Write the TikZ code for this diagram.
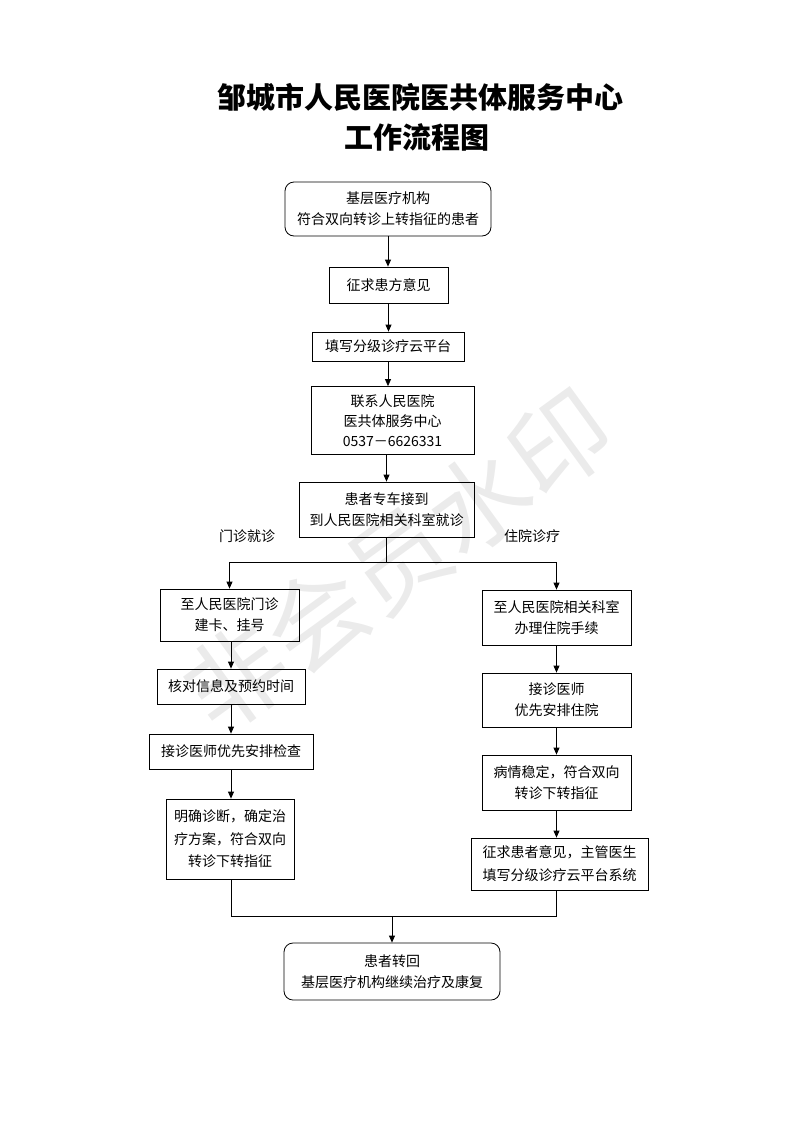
\documentclass[tikz,border=0pt]{standalone}
\usepackage{fontspec}
\setmainfont{Noto Sans CJK SC}
\usetikzlibrary{arrows.meta,calc}

\begin{document}
\begin{tikzpicture}[x=1pt, y=-1pt,
    kasten/.style={draw, line width=0.8pt, align=center, inner sep=0pt,
        font=\fontsize{14}{21}\selectfont},
    rundkasten/.style={kasten, rounded corners=9pt},
    pfeil/.style={-{Triangle[length=7pt,width=6pt]}, line width=0.8pt},
    linie/.style={line width=0.8pt},
    beschriftung/.style={font=\fontsize{14}{21}\selectfont}]

    % Rahmen der Seite
    \useasboundingbox (0,0) rectangle (793,1122);

    % Wasserzeichen
    \node[rotate=36, text=black!8, font=\fontsize{100}{100}\selectfont] (wasserzeichen) at (398,560) {非会员水印};

    % Titel
    \node[font=\fontsize{29}{29}\selectfont\bfseries] (titel1) at (420,97) {邹城市人民医院医共体服务中心};
    \node[font=\fontsize{29}{29}\selectfont\bfseries] (titel2) at (417,137) {工作流程图};

    % Hauptstrang
    \node[rundkasten, minimum width=206, minimum height=54] (start) at (388,209) {基层医疗机构\\符合双向转诊上转指征的患者};
    \node[kasten, minimum width=119, minimum height=36] (meinung) at (388.5,285) {征求患方意见};
    \node[kasten, minimum width=152, minimum height=29] (plattform) at (388,346.5) {填写分级诊疗云平台};
    \node[kasten, minimum width=163, minimum height=68, font=\fontsize{14}{20}\selectfont] (kontakt) at (392.5,420.5) {联系人民医院\\医共体服务中心\\0537－6626331};
    \node[kasten, minimum width=175, minimum height=55] (abholung) at (386.5,509.5) {患者专车接到\\到人民医院相关科室就诊};

    \draw[pfeil] (start.south) -- (start.south |- meinung.north);
    \draw[pfeil] (meinung.south) -- (meinung.south |- plattform.north);
    \draw[pfeil] (plattform.south) -- (plattform.south |- kontakt.north);
    \draw[pfeil] (abholung.north |- kontakt.south) -- (abholung.north);

    % Verzweigung
    \node[beschriftung] (ambulant) at (247,536) {门诊就诊};
    \node[beschriftung] (stationaer) at (532,536) {住院诊疗};

    % Linke Spalte: ambulant
    \node[kasten, minimum width=139, minimum height=52] (l1) at (229.5,615) {至人民医院门诊\\建卡、挂号};
    \node[kasten, minimum width=148, minimum height=35] (l2) at (231,686.5) {核对信息及预约时间};
    \node[kasten, minimum width=164, minimum height=35] (l3) at (231,751.5) {接诊医师优先安排检查};
    \node[kasten, minimum width=128, minimum height=80, font=\fontsize{14}{22.5}\selectfont] (l4) at (230,839) {明确诊断，确定治\\疗方案，符合双向\\转诊下转指征};

    % Rechte Spalte: stationaer
    \node[kasten, minimum width=149, minimum height=55] (r1) at (556.5,617.5) {至人民医院相关科室\\办理住院手续};
    \node[kasten, minimum width=149, minimum height=54] (r2) at (556.5,700) {接诊医师\\优先安排住院};
    \node[kasten, minimum width=149, minimum height=55] (r3) at (556.5,782.5) {病情稳定，符合双向\\转诊下转指征};
    \node[kasten, minimum width=177, minimum height=52, font=\fontsize{14}{23}\selectfont] (r4) at (559.5,864) {征求患者意见，主管医生\\填写分级诊疗云平台系统};

    \coordinate (gabel) at (386.5,562);
    \draw[linie] (abholung.south) -- (gabel);
    \draw[pfeil] (gabel) -| (l1.north);
    \draw[pfeil] (gabel) -| (r1.north);

    \draw[pfeil] (l2.north |- l1.south) -- (l2.north);
    \draw[pfeil] (l2.south) -- (l2.south |- l3.north);
    \draw[pfeil] (l3.south) -- (l3.south |- l4.north);

    \draw[pfeil] (r1.south) -- (r2.north);
    \draw[pfeil] (r2.south) -- (r3.north);
    \draw[pfeil] (r3.south) -- (r3.south |- r4.north);

    % Zusammenfuehrung
    \node[rundkasten, minimum width=216, minimum height=57] (ende) at (392,971.5) {患者转回\\基层医疗机构继续治疗及康复};

    \coordinate (mitteL) at (231,916);
    \coordinate (mitteR) at (556,916);
    \draw[linie] (l4.south -| mitteL) -- (mitteL) -- (mitteR) -- (r4.south -| mitteR);
    \draw[pfeil] (ende.north |- mitteL) -- (ende.north);
\end{tikzpicture}
\end{document}
